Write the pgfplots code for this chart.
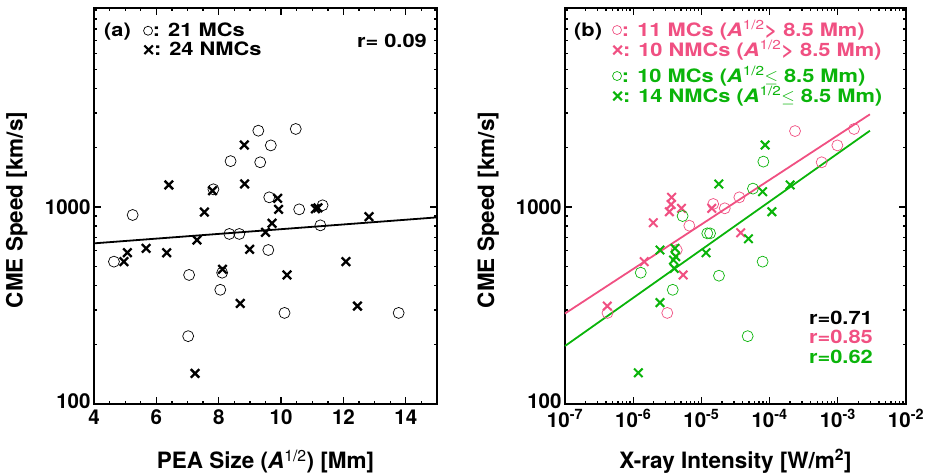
\documentclass[border=0pt]{standalone}
\usepackage{fontspec}
\setmainfont{TeX Gyre Heros}
\newfontfamily\annfont[FakeStretch=1.18]{TeX Gyre Heros}
\usepackage{pgfplots}
\pgfplotsset{compat=1.18}

\definecolor{mcpink}{RGB}{240,80,130}
\definecolor{mcgreen}{RGB}{10,180,10}

\newcommand{\circsym}[1]{\tikz[baseline=-0.6ex]\draw[#1,line width=0.7pt] (0,0) circle (4.5pt);}
\newcommand{\crosssym}[1]{\tikz[baseline=-0.6ex]\draw[#1,line width=2.2pt] (-4.3pt,-4.3pt)--(4.3pt,4.3pt) (-4.3pt,4.3pt)--(4.3pt,-4.3pt);}
\newcommand{\sqA}{\textit{A}\textsuperscript{\mdseries 1/2}}

\pgfplotsset{
  idl/.style={
    scale only axis,
    anchor=south west,
    height=396pt,
    ymin=100, ymax=10240,
    ytick={100,1000},
    yticklabels={\raisebox{6pt}{100},1000},
    minor ytick={200,300,400,500,600,700,800,900,2000,3000,4000,5000,6000,7000,8000,9000,10000},
    axis line style={line width=1.6pt},
    every tick/.style={black,line width=1.3pt},
    major tick length=7pt,
    minor tick length=3.5pt,
    tick align=inside,
    ticklabel style={font=\fontsize{20.5}{22}\selectfont\bfseries},
    xticklabel style={yshift=-2pt},
    label style={font=\fontsize{22.5}{25}\selectfont\bfseries},
    ylabel={CME Speed [km/s]},
    ylabel style={at={(axis description cs:-0.225,0.49)}, anchor=center},
    xlabel style={at={(axis description cs:0.5,-0.145)}, anchor=center},
    clip=false,
  },
  mcs/.style={only marks, mark=o, mark size=5.5pt, mark options={line width=0.7pt}},
  nmcs/.style={only marks, mark=x, mark size=6pt, mark options={line width=2.3pt}},
}

\begin{document}
\begin{tikzpicture}
\useasboundingbox (0,0) rectangle (931pt,475pt);

% panel (a)
\begin{axis}[ymode=log, idl,
    at={(94pt,71pt)}, width=343pt,
    xmin=4, xmax=15,
    xtick={4,6,8,10,12,14},
    xticklabels={4,6,8,10,12,14},
    minor xtick={4.5,5,5.5,6.5,7,7.5,8.5,9,9.5,10.5,11,11.5,12.5,13,13.5,14.5},
    xlabel={PEA Size (\sqA) [Mm]},
  ]
\addplot[mcs, black] coordinates {
  (5.24,911)(9.27,2440)(10.47,2490)(9.67,2055)(8.38,1710)(9.33,1687)(7.83,1230)
  (9.62,1120)(10.58,973)(11.33,1020)(11.26,807)(8.34,730)(8.66,730)(4.64,528)
  (7.05,452)(8.11,464)(8.05,380)(9.59,605)(10.11,290)(13.77,290)(7.02,221)
};
\addplot[nmcs, black] coordinates {
  (6.40,1294)(8.82,2065)(8.83,1309)(7.80,1210)(7.54,943)(9.89,1107)(9.92,973)
  (11.10,980)(11.18,990)(12.82,893)(9.71,827)(9.50,744)(7.30,680)(4.96,528)
  (5.07,586)(5.67,617)(6.33,586)(8.99,610)(8.12,483)(10.19,452)(12.08,528)
  (8.69,324)(12.45,314)(7.24,143)
};
\addplot[black, line width=1.8pt] coordinates {(4,654)(15,886)};
\end{axis}

% panel (b)
\begin{axis}[xmode=log, ymode=log, idl,
    at={(565pt,71pt)}, width=341pt,
    xmin=1e-7, xmax=1e-2,
    xtick={1e-7,1e-6,1e-5,1e-4,1e-3,1e-2},
    xticklabels={10\textsuperscript{-7},10\textsuperscript{-6},10\textsuperscript{-5},10\textsuperscript{-4},10\textsuperscript{-3},10\textsuperscript{-2}},
    minor xtick={2e-7,3e-7,4e-7,5e-7,6e-7,7e-7,8e-7,9e-7,
                 2e-6,3e-6,4e-6,5e-6,6e-6,7e-6,8e-6,9e-6,
                 2e-5,3e-5,4e-5,5e-5,6e-5,7e-5,8e-5,9e-5,
                 2e-4,3e-4,4e-4,5e-4,6e-4,7e-4,8e-4,9e-4,
                 2e-3,3e-3,4e-3,5e-3,6e-3,7e-3,8e-3,9e-3},
    xlabel={X-ray Intensity [W/m\textsuperscript{2}]},
  ]
\addplot[mcs, mcpink] coordinates {
  (2.36e-4,2430)(1.73e-3,2490)(9.85e-4,2055)(5.8e-4,1687)(3.6e-5,1120)(1.49e-5,1036)
  (2.2e-5,985)(6.65e-6,804)(4.35e-6,605)(4.2e-7,290)(3.16e-6,290)
};
\addplot[nmcs, mcpink, mark options={line width=2pt}] coordinates {
  (3.66e-6,1120)(3.6e-6,1030)(5.1e-6,985)(3.39e-6,946)(1.97e-6,832)(1.42e-5,985)
  (1.45e-6,528)(5.4e-6,452)(4.17e-7,314)(3.77e-5,740)
};
\addplot[mcs, mcgreen] coordinates {
  (8.1e-5,1700)(5.7e-5,1240)(5.3e-6,900)(1.22e-5,735)(1.34e-5,735)(1.29e-6,464)
  (3.8e-6,380)(1.81e-5,448)(7.9e-5,528)(4.77e-5,221)
};
\addplot[nmcs, mcgreen, mark options={line width=2pt}] coordinates {
  (8.6e-5,2065)(1.8e-5,1309)(7.9e-5,1196)(2e-4,1294)(1.08e-4,946)(4.9e-5,690)
  (2.47e-6,605)(4.1e-6,617)(3.9e-6,538)(4.0e-6,488)(4.2e-6,560)(1.17e-5,586)
  (2.47e-6,327)(1.19e-6,144)
};
\addplot[mcpink, line width=1.8pt] coordinates {(1e-7,288)(2.96e-3,2955)};
\addplot[mcgreen, line width=1.8pt] coordinates {(1e-7,197)(2.96e-3,2440)};
\end{axis}

% annotations, panel (a)
\begin{scope}[every node/.style={font=\annfont\fontsize{18.5}{21}\selectfont\bfseries, inner sep=0pt}]
\node[anchor=west] at (104pt,443pt) {(a)};
\node[anchor=west] at (143pt,445pt) {\circsym{black}: 21 MCs};
\node[anchor=west] at (143pt,426pt) {\crosssym{black}: 24 NMCs};
\node[anchor=east] at (427pt,434pt) {r= 0.09};
% annotations, panel (b)
\node[anchor=west] at (574pt,443pt) {(b)};
\node[anchor=west, text=mcpink] at (612pt,445pt) {\circsym{mcpink}: 11 MCs (\sqA> 8.5 Mm)};
\node[anchor=west, text=mcpink] at (612pt,425pt) {\crosssym{mcpink}: 10 NMCs (\sqA> 8.5 Mm)};
\node[anchor=west, text=mcgreen] at (612pt,399pt) {\circsym{mcgreen}: 10 MCs (\sqA$\leq$ 8.5 Mm)};
\node[anchor=west, text=mcgreen] at (612pt,379pt) {\crosssym{mcgreen}: 14 NMCs (\sqA$\leq$ 8.5 Mm)};
\node[anchor=east] at (873pt,157pt) {r=0.71};
\node[anchor=east, text=mcpink] at (873pt,138pt) {r=0.85};
\node[anchor=east, text=mcgreen] at (873pt,118pt) {r=0.62};
\end{scope}
\end{tikzpicture}
\end{document}
